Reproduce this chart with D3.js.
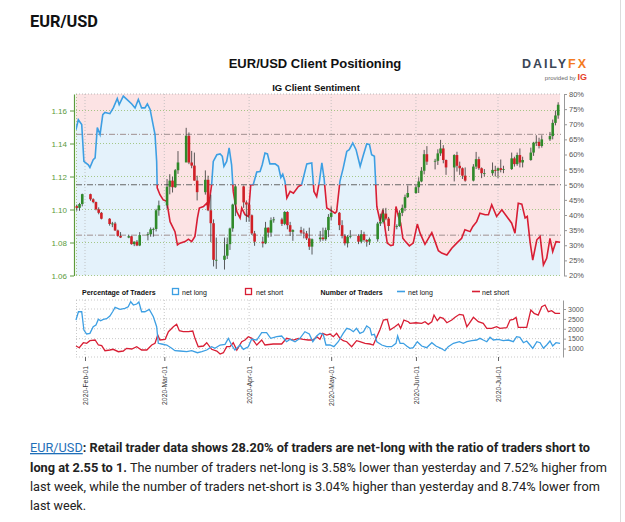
<!DOCTYPE html>
<html>
<head>
<meta charset="utf-8">
<script src="https://cdn.jsdelivr.net/npm/d3@7"></script>
<style>
  body { margin: 0; background: #fff; }
  svg { display: block; font-family: "Liberation Sans", Arial, sans-serif; }
</style>
</head>
<body>
<svg id="chart" width="625" height="522"></svg>
<script>
// daily candles: date, open, high, low, close
var ohlc = [
  ["2020-01-29",1.1020,1.1030,1.0992,1.1010],["2020-01-30",1.1010,1.1040,1.0992,1.1033],["2020-01-31",1.1033,1.1096,1.1019,1.1093],
  ["2020-02-03",1.1093,1.1096,1.1053,1.1062],["2020-02-04",1.1062,1.1068,1.1038,1.1045],["2020-02-05",1.1045,1.1048,1.0995,1.1001],
  ["2020-02-06",1.1001,1.1013,1.0971,1.0980],["2020-02-07",1.0980,1.0985,1.0940,1.0944],["2020-02-10",1.0944,1.0948,1.0902,1.0912],
  ["2020-02-11",1.0912,1.0925,1.0893,1.0915],["2020-02-12",1.0915,1.0925,1.0870,1.0873],["2020-02-13",1.0873,1.0878,1.0835,1.0840],
  ["2020-02-14",1.0840,1.0863,1.0827,1.0830],["2020-02-17",1.0830,1.0847,1.0826,1.0838],["2020-02-18",1.0838,1.0840,1.0787,1.0790],
  ["2020-02-19",1.0790,1.0807,1.0778,1.0805],["2020-02-20",1.0805,1.0815,1.0778,1.0782],["2020-02-21",1.0782,1.0863,1.0778,1.0845],
  ["2020-02-24",1.0845,1.0863,1.0813,1.0850],["2020-02-25",1.0850,1.0891,1.0835,1.0880],["2020-02-26",1.0880,1.0890,1.0835,1.0882],
  ["2020-02-27",1.0882,1.1004,1.0867,1.0995],["2020-02-28",1.0995,1.1054,1.0962,1.1025],
  ["2020-03-02",1.1025,1.1185,1.1005,1.1138],["2020-03-03",1.1138,1.1214,1.1092,1.1175],["2020-03-04",1.1175,1.1198,1.1103,1.1135],
  ["2020-03-05",1.1135,1.1245,1.1131,1.1238],["2020-03-06",1.1238,1.1354,1.1216,1.1285],["2020-03-09",1.1285,1.1495,1.1300,1.1447],
  ["2020-03-10",1.1447,1.1467,1.1275,1.1285],["2020-03-11",1.1285,1.1355,1.1250,1.1266],["2020-03-12",1.1266,1.1345,1.1175,1.1175],
  ["2020-03-13",1.1175,1.1205,1.1055,1.1105],["2020-03-16",1.1105,1.1237,1.1090,1.1180],["2020-03-17",1.1180,1.1205,1.0990,1.0995],
  ["2020-03-18",1.0995,1.1090,1.0802,1.0917],["2020-03-19",1.0917,1.0940,1.0655,1.0695],["2020-03-20",1.0695,1.0830,1.0640,1.0695],
  ["2020-03-23",1.0695,1.0830,1.0636,1.0720],["2020-03-24",1.0720,1.0830,1.0700,1.0790],["2020-03-25",1.0790,1.0890,1.0755,1.0885],
  ["2020-03-26",1.0885,1.1035,1.0865,1.1030],["2020-03-27",1.1030,1.1147,1.0960,1.1140],["2020-03-30",1.1140,1.1145,1.1010,1.1043],
  ["2020-03-31",1.1043,1.1055,1.0925,1.1030],
  ["2020-04-01",1.1030,1.1040,1.0925,1.0965],["2020-04-02",1.0965,1.0970,1.0845,1.0855],["2020-04-03",1.0855,1.0870,1.0780,1.0805],
  ["2020-04-06",1.0805,1.0835,1.0770,1.0795],["2020-04-07",1.0795,1.0925,1.0790,1.0890],["2020-04-08",1.0890,1.0891,1.0830,1.0860],
  ["2020-04-09",1.0860,1.0952,1.0835,1.0935],["2020-04-10",1.0935,1.0955,1.0920,1.0940],["2020-04-13",1.0940,1.0950,1.0900,1.0913],
  ["2020-04-14",1.0913,1.0990,1.0905,1.0985],["2020-04-15",1.0985,1.0990,1.0880,1.0905],["2020-04-16",1.0905,1.0925,1.0840,1.0865],
  ["2020-04-17",1.0865,1.0880,1.0810,1.0875],["2020-04-20",1.0875,1.0895,1.0850,1.0860],["2020-04-21",1.0860,1.0885,1.0825,1.0855],
  ["2020-04-22",1.0855,1.0870,1.0815,1.0825],["2020-04-23",1.0825,1.0890,1.0755,1.0775],["2020-04-24",1.0775,1.0825,1.0727,1.0820],
  ["2020-04-27",1.0820,1.0870,1.0805,1.0830],["2020-04-28",1.0830,1.0890,1.0810,1.0820],["2020-04-29",1.0820,1.0890,1.0810,1.0875],
  ["2020-04-30",1.0875,1.0972,1.0833,1.0955],
  ["2020-05-01",1.0955,1.1019,1.0935,1.0980],["2020-05-04",1.0980,1.0985,1.0875,1.0905],["2020-05-05",1.0905,1.0935,1.0825,1.0840],
  ["2020-05-06",1.0840,1.0850,1.0782,1.0795],["2020-05-07",1.0795,1.0845,1.0770,1.0835],["2020-05-08",1.0835,1.0875,1.0825,1.0840],
  ["2020-05-11",1.0840,1.0850,1.0790,1.0805],["2020-05-12",1.0805,1.0875,1.0795,1.0850],["2020-05-13",1.0850,1.0865,1.0805,1.0815],
  ["2020-05-14",1.0815,1.0820,1.0775,1.0805],["2020-05-15",1.0805,1.0830,1.0785,1.0820],["2020-05-18",1.0820,1.0925,1.0805,1.0915],
  ["2020-05-19",1.0915,1.0975,1.0900,1.0925],["2020-05-20",1.0925,1.1008,1.0915,1.0975],["2020-05-21",1.0975,1.1010,1.0935,1.0945],
  ["2020-05-22",1.0945,1.0955,1.0870,1.0900],["2020-05-25",1.0900,1.0910,1.0880,1.0900],["2020-05-26",1.0900,1.0995,1.0895,1.0980],
  ["2020-05-27",1.0980,1.1030,1.0960,1.1010],["2020-05-28",1.1010,1.1090,1.0990,1.1075],["2020-05-29",1.1075,1.1145,1.1070,1.1100],
  ["2020-06-01",1.1100,1.1155,1.1095,1.1135],["2020-06-02",1.1135,1.1195,1.1100,1.1170],["2020-06-03",1.1170,1.1257,1.1165,1.1235],
  ["2020-06-04",1.1235,1.1361,1.1213,1.1335],["2020-06-05",1.1335,1.1384,1.1270,1.1290],["2020-06-08",1.1290,1.1307,1.1243,1.1295],
  ["2020-06-09",1.1295,1.1365,1.1270,1.1340],["2020-06-10",1.1340,1.1422,1.1325,1.1370],["2020-06-11",1.1370,1.1390,1.1280,1.1300],
  ["2020-06-12",1.1300,1.1303,1.1210,1.1255],["2020-06-15",1.1255,1.1335,1.1170,1.1330],["2020-06-16",1.1330,1.1350,1.1230,1.1265],
  ["2020-06-17",1.1265,1.1290,1.1210,1.1250],["2020-06-18",1.1250,1.1255,1.1185,1.1205],["2020-06-19",1.1205,1.1255,1.1168,1.1175],
  ["2020-06-22",1.1175,1.1275,1.1170,1.1260],["2020-06-23",1.1260,1.1349,1.1245,1.1305],["2020-06-24",1.1305,1.1320,1.1240,1.1250],
  ["2020-06-25",1.1250,1.1255,1.1190,1.1220],["2020-06-26",1.1220,1.1245,1.1200,1.1220],["2020-06-29",1.1220,1.1285,1.1205,1.1240],
  ["2020-06-30",1.1240,1.1265,1.1200,1.1235],
  ["2020-07-01",1.1235,1.1255,1.1190,1.1250],["2020-07-02",1.1250,1.1303,1.1225,1.1240],["2020-07-03",1.1240,1.1265,1.1220,1.1245],
  ["2020-07-06",1.1245,1.1345,1.1240,1.1310],["2020-07-07",1.1310,1.1320,1.1260,1.1275],["2020-07-08",1.1275,1.1345,1.1265,1.1330],
  ["2020-07-09",1.1330,1.1370,1.1255,1.1285],["2020-07-10",1.1285,1.1320,1.1255,1.1300],["2020-07-13",1.1300,1.1375,1.1295,1.1345],
  ["2020-07-14",1.1345,1.1410,1.1325,1.1405],["2020-07-15",1.1405,1.1450,1.1385,1.1410],["2020-07-16",1.1410,1.1435,1.1370,1.1385],
  ["2020-07-17",1.1385,1.1450,1.1375,1.1425],["2020-07-20",1.1425,1.1470,1.1415,1.1445],["2020-07-21",1.1445,1.1545,1.1425,1.1525],
  ["2020-07-22",1.1525,1.1600,1.1510,1.1570],["2020-07-23",1.1570,1.1650,1.1550,1.1635]
];

// % of traders net long: [days since 2020-02-01, percent]
var netLongPct = [
  [-3.3,68.2],[-2.45,71.5],[-1.2,69.9],[-0.4,57.7],[1.2,56.6],[1.8,55.7],[3.0,58.3],[3.7,58.9],[4.5,68.9],[5.5,66.6],
  [6.5,73.2],[7.3,73.9],[9.1,73.5],[10.4,75.5],[11.8,78.5],[12.5,76.5],[14.0,79.3],[15.3,78.2],[17.1,76.7],[18.3,75.4],
  [19.5,78.2],[20.7,75.4],[21.9,75.4],[22.8,76.7],[23.8,74.9],[25.6,66.6],[26.2,57.7],[26.4,49],[27.4,46.7],[28.6,45],
  [29.9,44.5],[31.1,37.8],[32.9,34.5],[33.8,30.1],[34.7,30.7],[36.6,31.2],[37.8,32],[39.0,31.2],[40.2,32.9],[41.1,39],
  [41.8,42.3],[43.3,42.8],[44.5,43.9],[45.1,42.3],[46.3,50],[46.9,57.7],[48.2,59.9],[49.4,60.2],[50.2,59.4],[50.8,56.1],
  [51.8,57.7],[52.7,62.2],[53.6,56.6],[54.2,47.8],[54.8,44.5],[55.5,41.1],[56.7,39],[57.3,42.3],[58.5,40.1],[59.7,39.5],
  [60.6,50],[61.5,50],[62.8,54.2],[64.0,54.4],[64.8,56.6],[65.8,60.5],[66.7,60.2],[67.6,56.9],[69.5,56.9],[70.7,56.1],
  [71.6,52.4],[72.3,53.5],[73.1,51.1],[73.8,45.6],[75.0,47.8],[76.2,47.2],[78.0,49.4],[79.2,50],[81.1,56.9],[82.9,57.2],
  [83.7,47.8],[84.7,46.1],[85.7,51.1],[86.6,57.2],[87.4,52.2],[88.4,42.3],[89.6,41.7],[91.4,40.6],[92.0,41.1],[93.2,51.1],
  [94.4,55.5],[95.7,61],[96.6,61.6],[97.9,63.8],[99.1,61.6],[100.6,56.1],[101.8,59.9],[103.0,63.5],[104.0,63.3],[104.8,59.9],
  [105.8,59.4],[106.7,42.8],[107.9,37.8],[108.9,41.7],[109.7,35.6],[110.5,30.7],[111.8,29.9],[112.7,30.1],[113.7,42.8],[114.6,39.5],
  [115.4,37.3],[116.2,32.3],[117.0,31.4],[118.6,29.8],[120.0,30.7],[121.5,37],[122.5,34],[124.3,30.3],[126.8,34.2],[128.0,31.2],
  [129.2,28.2],[130.4,27.4],[132.3,26.8],[134.1,29],[135.9,30.7],[137.7,32.3],[138.9,35.1],[140.8,34.5],[141.8,36.2],[143.2,37.8],
  [144.4,40.6],[146.3,40.1],[147.5,40.1],[148.7,43.4],[150.5,39.5],[152.4,41.7],[154.2,39.5],[156.0,37.3],[157.2,34],[158.4,43.9],
  [159.7,43.6],[160.9,39],[161.7,39.5],[162.7,31.2],[163.7,25.1],[165.2,31.8],[166.4,32.9],[167.6,23.5],[168.8,25.7],[170.0,32.3],
  [171.0,27.9],[172.2,31.2],[173.7,31]
];

// number of traders net long: [days since 2020-02-01, count]
var netLongCount = [
  [-3.3,2442],[-2.4,2862],[-1.2,2862],[-0.4,1936],[0.6,1734],[1.8,1769],[3.0,2103],[4.0,2189],[4.9,2478],[5.7,2407],
  [6.7,2478],[7.9,2508],[9.1,2645],[10.1,2862],[11.0,3085],[12.8,2984],[14.6,3034],[15.8,3115],[16.7,3368],[17.7,3201],
  [18.9,3252],[19.7,3353],[20.7,2862],[21.9,2862],[23.5,2984],[25.0,2609],[26.2,2103],[26.8,1263],[28.0,1228],[29.9,1177],
  [31.7,1010],[32.9,889],[34.7,873],[37.2,838],[39.0,889],[41.1,787],[42.7,838],[44.5,924],[46.3,1091],[47.5,1010],
  [49.4,1177],[51.2,1212],[52.4,1516],[53.6,1177],[54.8,924],[56.7,1177],[57.9,960],[59.7,1091],[60.9,1465],[62.8,1430],
  [64.6,1800],[66.4,1800],[67.9,1516],[70.1,1597],[71.9,1632],[73.7,1344],[75.0,1465],[76.8,1344],[78.6,1516],[80.4,1850],
  [82.0,1734],[83.3,1344],[84.7,1632],[85.9,1769],[87.1,1718],[88.1,1177],[89.6,1177],[91.0,1091],[92.6,1344],[94.4,1769],
  [95.7,2022],[96.9,1972],[98.1,1850],[99.3,2022],[100.5,1769],[101.8,1850],[103.0,2139],[104.2,2022],[104.8,1683],[105.8,1718],
  [106.7,1344],[108.5,1177],[110.3,1091],[112.1,1091],[113.7,1263],[114.3,1632],[115.2,1263],[116.4,1263],[117.6,1126],[118.8,1010],
  [120.0,1040],[121.5,1344],[123.1,1126],[124.9,1040],[126.8,1293],[128.3,1126],[130.1,1010],[131.6,889],[132.8,1091],[134.7,1263],
  [136.9,1344],[138.3,1263],[139.6,1344],[141.4,1395],[143.2,1430],[144.4,1516],[145.6,1430],[146.9,1344],[148.1,1567],[149.3,1430],
  [151.1,1465],[152.9,1395],[154.8,1430],[156.6,1344],[157.8,1597],[159.0,1567],[160.3,1293],[161.5,1380],[162.7,1177],[163.7,1010],
  [165.2,1344],[166.4,1293],[167.6,1010],[168.8,1177],[170.0,1380],[171.0,1126],[172.2,1293],[173.7,1263]
];

// number of traders net short: [days since 2020-02-01, count]
var netShortCount = [
  [-3.3,1126],[-2.1,1040],[-0.6,1293],[0.6,1263],[1.8,1395],[3.7,1430],[4.9,1177],[6.1,1142],[7.3,889],[9.1,924],
  [10.3,960],[12.2,838],[14.0,873],[15.2,1010],[17.1,975],[18.9,1091],[20.7,924],[22.6,924],[24.4,1177],[25.6,1263],
  [26.6,1683],[27.4,1430],[29.3,1465],[30.5,1850],[32.3,2103],[33.5,2224],[34.5,1901],[35.9,1850],[37.8,1850],[39.4,1885],
  [40.2,1516],[41.4,1091],[43.3,1126],[44.5,1293],[46.3,960],[48.2,873],[49.4,722],[50.6,787],[51.8,1091],[53.0,1091],
  [54.2,1293],[55.5,924],[57.3,1344],[58.5,1430],[59.7,1597],[61.0,1516],[62.8,1177],[64.6,1430],[65.8,1177],[68.8,1228],
  [71.9,1228],[73.7,1516],[76.2,1430],[78.0,1516],[79.8,1465],[81.6,1430],[83.5,1430],[84.7,1597],[85.9,1465],[86.9,1769],
  [88.4,1683],[89.6,1734],[90.8,1597],[92.0,1769],[93.2,1516],[94.4,1395],[95.7,1344],[97.5,1091],[99.3,1395],[100.5,1344],
  [102.4,1263],[104.2,1228],[105.4,1177],[106.7,1597],[107.9,1972],[109.1,2442],[110.5,2478],[111.5,1936],[113.3,2103],[114.6,2240],
  [115.4,2022],[116.6,2442],[118.2,2356],[118.8,2275],[121.0,2305],[123.1,2275],[124.3,2356],[125.5,2224],[126.8,2356],[127.6,2695],
  [128.8,2407],[129.8,2579],[131.0,2528],[132.3,2305],[134.1,2442],[135.3,2579],[136.9,2731],[138.3,2695],[139.6,2103],[140.5,2275],
  [142.0,2579],[143.8,2356],[145.6,2275],[146.9,2022],[148.7,2022],[150.5,2103],[151.7,2022],[154.2,2052],[155.4,2442],[156.6,2478],
  [157.6,2579],[158.4,2073],[161.5,2073],[163.0,2948],[164.2,2781],[165.7,2695],[167.0,3115],[168.2,3201],[169.4,2862],[170.6,2913],
  [171.9,2781],[173.7,2781]
];

var priceTicks = [1.06, 1.08, 1.10, 1.12, 1.14, 1.16];
var pctTicks = [20, 25, 30, 35, 40, 45, 50, 55, 60, 65, 70, 75, 80];
var pctGuides = [100 / 3, 50, 200 / 3];
var countTicks = [1000, 1500, 2000, 2500, 3000];

var blue = "#3d9fe3", red = "#d81e34", green = "#5b9b3c";

var svg = d3.select("#chart");
var parseDay = d3.timeParse("%Y-%m-%d");
var feb1 = new Date(2020, 1, 1);
function fromDay(d) { return new Date(feb1.getTime() + d * 864e5); }

// layout
var plot = { left: 76, right: 561, top: 94, bottom: 275.5 };
var lower = { top: 300, bottom: 357 };

var x = d3.scaleTime()
  .domain([fromDay(-3.29), fromDay(174.03)])
  .range([plot.left, plot.right]);
var yPrice = d3.scaleLinear().domain([1.06, 1.17]).range([plot.bottom, plot.top]);
var yPct = d3.scaleLinear().domain([20, 80]).range([plot.bottom, plot.top]);
var yCount = d3.scaleLinear().domain([570, 3456]).range([lower.bottom, lower.top]);

// page header
svg.append("text").attr("x", 30).attr("y", 27)
  .style("font-family", "Roboto, sans-serif").style("font-weight", "bold").style("font-size", "17px")
  .attr("fill", "#111").attr("textLength", 68).attr("lengthAdjust", "spacingAndGlyphs")
  .text("EUR/USD");

svg.append("line").attr("x1", 620.5).attr("x2", 620.5).attr("y1", 0).attr("y2", 522)
  .attr("stroke", "#dcdcdc");

// chart titles
svg.append("text").attr("x", 315).attr("y", 68).attr("text-anchor", "middle")
  .style("font-weight", "bold").style("font-size", "13px").attr("fill", "#111")
  .text("EUR/USD Client Positioning");
svg.append("text").attr("x", 316).attr("y", 91).attr("text-anchor", "middle")
  .style("font-weight", "bold").style("font-size", "9.5px").attr("fill", "#111")
  .text("IG Client Sentiment");

// logo
var logo = svg.append("text").attr("x", 522).attr("y", 68)
  .style("font-weight", "bold").style("font-size", "12.5px")
  .attr("textLength", 64).attr("lengthAdjust", "spacing");
logo.append("tspan").attr("fill", "#3b4656").text("DAILY");
logo.append("tspan").attr("fill", "#f47a20").text("FX");
var prov = svg.append("text").attr("x", 587).attr("y", 80).attr("text-anchor", "end");
prov.append("tspan").attr("fill", "#666").style("font-size", "6px").text("provided by ");
prov.append("tspan").attr("fill", "#e5402a").style("font-weight", "bold").style("font-size", "9px").text("IG");

// sentiment background fills
var sent = netLongPct.map(function(p) { return { t: fromDay(p[0]), v: p[1] }; });
svg.append("path").datum(sent)
  .attr("fill", "#fce3e4")
  .attr("d", d3.area().x(function(d) { return x(d.t); }).y0(plot.top).y1(function(d) { return yPct(d.v); }));
svg.append("path").datum(sent)
  .attr("fill", "#e4f2fb")
  .attr("d", d3.area().x(function(d) { return x(d.t); }).y0(plot.bottom).y1(function(d) { return yPct(d.v); }));

// grid
var months = x.ticks(d3.timeMonth);
svg.append("g").selectAll("line").data(months).enter().append("line")
  .attr("x1", function(d) { return x(d); }).attr("x2", function(d) { return x(d); })
  .attr("y1", plot.top).attr("y2", plot.bottom)
  .attr("stroke", "#b9b9b9").attr("stroke-width", 0.8).attr("stroke-dasharray", "1,2");
svg.append("g").selectAll("line").data(priceTicks).enter().append("line")
  .attr("x1", plot.left).attr("x2", plot.right)
  .attr("y1", function(d) { return yPrice(d); }).attr("y2", function(d) { return yPrice(d); })
  .attr("stroke", "#9cc27a").attr("stroke-width", 0.9).attr("stroke-dasharray", "1,2");
svg.append("line").attr("x1", plot.left).attr("x2", plot.right).attr("y1", plot.top).attr("y2", plot.top)
  .attr("stroke", "#aaa").attr("stroke-width", 0.8).attr("stroke-dasharray", "1,2");
svg.append("line").attr("x1", plot.left + 0.5).attr("x2", plot.left + 0.5).attr("y1", plot.top).attr("y2", plot.bottom)
  .attr("stroke", "#9cc27a").attr("stroke-width", 0.8).attr("stroke-dasharray", "1,2");
svg.append("g").selectAll("line").data(pctGuides).enter().append("line")
  .attr("x1", plot.left).attr("x2", plot.right)
  .attr("y1", function(d) { return yPct(d); }).attr("y2", function(d) { return yPct(d); })
  .attr("stroke", function(d) { return d === 50 ? "#666" : "#a09090"; })
  .attr("stroke-width", 1).attr("stroke-dasharray", "6,2,1,2");

// sentiment line, blue above 50 %, red below
var defs = svg.append("defs");
defs.append("clipPath").attr("id", "above").append("rect")
  .attr("x", plot.left).attr("y", plot.top - 5).attr("width", plot.right - plot.left + 5).attr("height", yPct(50) - plot.top + 5);
defs.append("clipPath").attr("id", "below").append("rect")
  .attr("x", plot.left).attr("y", yPct(50)).attr("width", plot.right - plot.left + 5).attr("height", plot.bottom - yPct(50) + 5);
var sentLine = d3.line().x(function(d) { return x(d.t); }).y(function(d) { return yPct(d.v); });
svg.append("path").datum(sent).attr("clip-path", "url(#above)")
  .attr("fill", "none").attr("stroke", blue).attr("stroke-width", 1.6).attr("d", sentLine);
svg.append("path").datum(sent).attr("clip-path", "url(#below)")
  .attr("fill", "none").attr("stroke", red).attr("stroke-width", 1.6).attr("d", sentLine);

// candles
var candles = svg.append("g").selectAll("g").data(ohlc).enter().append("g");
candles.append("line")
  .attr("x1", function(d) { return x(parseDay(d[0])); }).attr("x2", function(d) { return x(parseDay(d[0])); })
  .attr("y1", function(d) { return yPrice(d[2]); }).attr("y2", function(d) { return yPrice(d[3]); })
  .attr("stroke", "#333").attr("stroke-width", 0.8);
candles.append("rect")
  .attr("x", function(d) { return x(parseDay(d[0])) - 1.3; }).attr("width", 2.6)
  .attr("y", function(d) { return yPrice(Math.max(d[1], d[4])); })
  .attr("height", function(d) { return Math.max(0.8, Math.abs(yPrice(d[1]) - yPrice(d[4]))); })
  .attr("fill", function(d) { return d[4] >= d[1] ? "#2f8a2a" : "#d01f26"; });

// axes of the main chart
var leftAxis = svg.append("g").attr("transform", "translate(74,0)")
  .call(d3.axisLeft(yPrice).tickValues(priceTicks).tickFormat(d3.format(".2f")).tickSize(4).tickSizeOuter(0));
leftAxis.select(".domain").attr("stroke", green).attr("stroke-width", 1.2);
leftAxis.selectAll(".tick line").attr("stroke", green);
leftAxis.selectAll("text").attr("fill", green).style("font-size", "8px").style("font-family", "Liberation Sans, Arial");

var rightAxis = svg.append("g").attr("transform", "translate(564,0)")
  .call(d3.axisRight(yPct).tickValues(pctTicks).tickFormat(function(d) { return d + "%"; }).tickSize(3).tickPadding(2).tickSizeOuter(0));
rightAxis.select(".domain").attr("stroke", "#999");
rightAxis.selectAll(".tick line").attr("stroke", "#999");
rightAxis.selectAll("text").attr("fill", "#555").style("font-size", "7.5px").style("font-family", "Liberation Sans, Arial");

// legend row
var legend = svg.append("g").style("font-size", "7px").attr("fill", "#111");
legend.append("text").attr("x", 82).attr("y", 294.5).style("font-weight", "bold").text("Percentage of Traders");
legend.append("rect").attr("x", 172.5).attr("y", 288.5).attr("width", 6).attr("height", 6)
  .attr("fill", "none").attr("stroke", blue).attr("stroke-width", 1.3);
legend.append("text").attr("x", 182).attr("y", 294.5).text("net long");
legend.append("rect").attr("x", 245.5).attr("y", 288.5).attr("width", 6).attr("height", 6)
  .attr("fill", "none").attr("stroke", red).attr("stroke-width", 1.3);
legend.append("text").attr("x", 256).attr("y", 294.5).text("net short");
legend.append("text").attr("x", 320.5).attr("y", 294.5).style("font-weight", "bold").text("Number of Traders");
legend.append("line").attr("x1", 397).attr("x2", 405).attr("y1", 291.5).attr("y2", 291.5)
  .attr("stroke", blue).attr("stroke-width", 1.6);
legend.append("text").attr("x", 408).attr("y", 294.5).text("net long");
legend.append("line").attr("x1", 472).attr("x2", 480).attr("y1", 291.5).attr("y2", 291.5)
  .attr("stroke", red).attr("stroke-width", 1.6);
legend.append("text").attr("x", 482).attr("y", 294.5).text("net short");

// lower panel grid
var lowGrid = [lower.top].concat(countTicks.map(function(d) { return yCount(d); }), [lower.bottom]);
svg.append("g").selectAll("line").data(lowGrid).enter().append("line")
  .attr("x1", plot.left).attr("x2", plot.right)
  .attr("y1", function(d) { return d; }).attr("y2", function(d) { return d; })
  .attr("stroke", "#bbb").attr("stroke-width", 0.8).attr("stroke-dasharray", "1,2");
svg.append("g").selectAll("line").data(months).enter().append("line")
  .attr("x1", function(d) { return x(d); }).attr("x2", function(d) { return x(d); })
  .attr("y1", lower.top).attr("y2", lower.bottom)
  .attr("stroke", "#bbb").attr("stroke-width", 0.8).attr("stroke-dasharray", "1,2");
svg.append("line").attr("x1", plot.left + 0.5).attr("x2", plot.left + 0.5).attr("y1", lower.top).attr("y2", lower.bottom)
  .attr("stroke", "#bbb").attr("stroke-width", 0.8).attr("stroke-dasharray", "1,2");

// lower panel lines
var countLine = d3.line().x(function(d) { return x(fromDay(d[0])); }).y(function(d) { return yCount(d[1]); });
svg.append("path").datum(netShortCount).attr("fill", "none").attr("stroke", red).attr("stroke-width", 1.3).attr("d", countLine);
svg.append("path").datum(netLongCount).attr("fill", "none").attr("stroke", blue).attr("stroke-width", 1.3).attr("d", countLine);

var countAxis = svg.append("g").attr("transform", "translate(563,0)")
  .call(d3.axisRight(yCount).tickValues(countTicks).tickFormat(d3.format("d")).tickSize(3).tickPadding(2).tickSizeOuter(0));
countAxis.select(".domain").attr("stroke", "#999");
countAxis.selectAll(".tick line").attr("stroke", "#999");
countAxis.selectAll("text").attr("fill", "#555").style("font-size", "7px").style("font-family", "Liberation Sans, Arial");

// month axis under the lower panel
var monthAxis = svg.append("g").attr("transform", "translate(0," + lower.bottom + ")")
  .call(d3.axisBottom(x).tickValues(months).tickFormat(d3.timeFormat("%Y-%b-%d")).tickSize(4).tickSizeOuter(0));
monthAxis.select(".domain").remove();
monthAxis.selectAll(".tick line").attr("stroke", "#666");
monthAxis.selectAll("text")
  .attr("transform", "rotate(-90)").attr("text-anchor", "end")
  .attr("x", -9).attr("y", 0).attr("dy", "0.35em")
  .attr("fill", "#333").style("font-size", "6.8px").style("font-family", "Liberation Sans, Arial");

// description under the chart
var desc = svg.append("g").style("font-family", "Roboto, sans-serif").style("font-size", "13px").attr("fill", "#222");
var l1 = desc.append("text").attr("x", 30).attr("y", 452).attr("textLength", 560).attr("lengthAdjust", "spacingAndGlyphs");
l1.append("tspan").attr("fill", "#1f6fb8").attr("text-decoration", "underline").text("EUR/USD");
l1.append("tspan").style("font-weight", "bold").text(": Retail trader data shows 28.20% of traders are net-long with the ratio of traders short to");
var l2 = desc.append("text").attr("x", 30).attr("y", 472).attr("textLength", 577).attr("lengthAdjust", "spacingAndGlyphs");
l2.append("tspan").style("font-weight", "bold").text("long at 2.55 to 1.");
l2.append("tspan").text(" The number of traders net-long is 3.58% lower than yesterday and 7.52% higher from");
desc.append("text").attr("x", 30).attr("y", 491).attr("textLength", 570).attr("lengthAdjust", "spacingAndGlyphs")
  .text("last week, while the number of traders net-short is 3.04% higher than yesterday and 8.74% lower from");
desc.append("text").attr("x", 30).attr("y", 510).attr("textLength", 56).attr("lengthAdjust", "spacingAndGlyphs")
  .text("last week.");
</script>
</body>
</html>
